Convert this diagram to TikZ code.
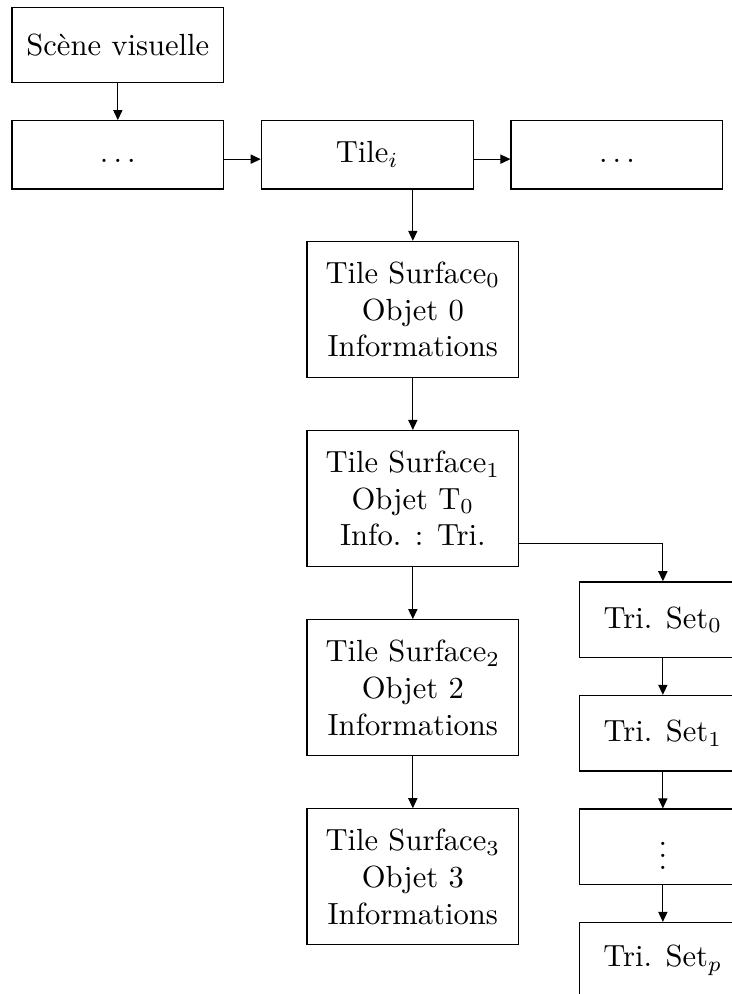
\documentclass[tikz,border=0pt]{standalone}
\usepackage{fontspec}
\usetikzlibrary{arrows.meta,calc}

\begin{document}
\begin{tikzpicture}[x=1pt, y=1pt, >={Triangle[length=3.3pt, width=3pt]},
  box/.style={draw, line width=0.4pt, inner sep=2pt, align=center, minimum width=69.2pt},
  rowbox/.style={box, minimum height=22.3pt, text height=6.9pt, text depth=1.6pt},
  surfbox/.style={box, minimum height=44.4pt},
  setbox/.style={box, minimum width=54.7pt, minimum height=24.7pt},
  link/.style={->, line width=0.4pt}]

% ----------------------------
% PAGE (clips the right column)
% ----------------------------
\useasboundingbox (0,0) rectangle (238.9,-324.8);

% ----------------------------
% PARAMETERS
% ----------------------------
\def\rowY{-50.6}    % row of tiles
\def\colS{134.9}    % column of tile surfaces
\def\colT{216.6}    % column of triangle sets
\def\dS{61.8}       % step between surfaces
\def\dT{37.1}       % step between triangle sets

% ----------------------------
% SCENE AND TILES
% ----------------------------
\node[box, minimum height=24.5pt] (scene) at (38.5,-14.6) {Scène visuelle};

\node[rowbox] (tprev) at (38.5,\rowY) {$\ldots$};
\node[rowbox] (tile)  at (120.0,\rowY) {Tile$_i$};
\node[rowbox] (tnext) at (201.6,\rowY) {$\ldots$};

% ----------------------------
% TILE SURFACES
% ----------------------------
\node[surfbox] (ts0) at (\colS,-101.1)
  {Tile Surface$_0$\\Objet 0\\Informations};
\node[surfbox] (ts1) at (\colS,{-101.1-\dS})
  {Tile Surface$_1$\\Objet T$_0$\\Info. : Tri.};
\node[surfbox] (ts2) at (\colS,{-101.1-2*\dS})
  {Tile Surface$_2$\\Objet 2\\Informations};
\node[surfbox] (ts3) at (\colS,{-101.1-3*\dS})
  {Tile Surface$_3$\\Objet 3\\Informations};

% ----------------------------
% TRIANGLE SETS
% ----------------------------
\node[setbox] (set0) at (\colT,-202.5) {Tri. Set$_0$};
\node[setbox] (set1) at (\colT,{-202.5-\dT}) {Tri. Set$_1$};
\node[setbox] (setd) at (\colT,{-202.5-2*\dT}) {$\vdots$};
\node[setbox] (setp) at (\colT,{-202.5-3*\dT}) {Tri. Set$_p$};

% ----------------------------
% CONNECTORS
% ----------------------------
\draw[link] (scene) -- (tprev);
\draw[link] ([yshift=-1.4pt]tprev.east) -- ([yshift=-1.4pt]tile.west);
\draw[link] ([yshift=-1.4pt]tile.east) -- ([yshift=-1.4pt]tnext.west);
\draw[link] (tile.south -| ts0.north) -- (ts0.north);

\draw[link] (ts0) -- (ts1);
\draw[link] (ts1) -- (ts2);
\draw[link] (ts2) -- (ts3);

\coordinate (ts1out) at ($(ts1.east)+(0,-14.8)$);
\draw[link] (ts1out) -| (set0.north);

\draw[link] (set0) -- (set1);
\draw[link] (set1) -- (setd);
\draw[link] (setd) -- (setp);

\end{tikzpicture}
\end{document}
